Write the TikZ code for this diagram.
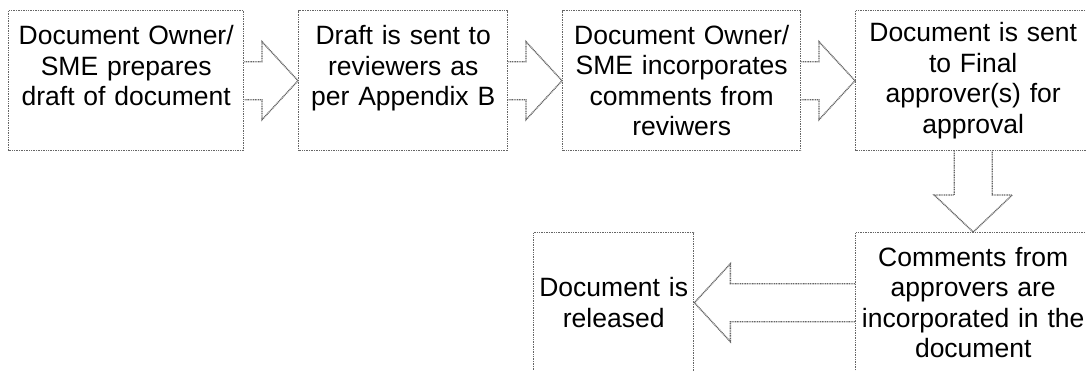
\documentclass[tikz,border=0pt]{standalone}
\usepackage{fontspec}
\setmainfont{Liberation Sans}
\usetikzlibrary{calc}

\tikzset{
  outline/.style={draw=black!60, line width=1.4pt, dash pattern=on 1pt off 0.7pt},
  stepbox/.style={outline, align=center, inner sep=0pt, anchor=north west,
    font=\fontsize{26.5}{30.5}\selectfont},
  blockarrow/.style={outline, line join=miter},
}

% block arrow pointing right, from the east side of #1 to the west side of #2
\newcommand{\rightblock}[2]{%
  \draw[blockarrow] ($(#1.east)+(0,19)$) -- ($(#2.west)+(-36,19)$)
    -- ($(#2.west)+(-36,39)$) -- (#2.west) -- ($(#2.west)+(-36,-39)$)
    -- ($(#2.west)+(-36,-19)$) -- ($(#1.east)+(0,-19)$);}

\begin{document}
\begin{tikzpicture}[x=1pt, y=1pt]
\useasboundingbox (0,0) rectangle (1086,-370);
\fill[white] (0,0) rectangle (1086,-370);
\clip (0,0) rectangle (1086,-370);

% first row
\node[stepbox, minimum width=235pt, minimum height=140pt, text width=228pt] (b1) at (8,-10)
  {Document Owner/\\SME prepares\\draft of document\\\mbox{}};
\node[stepbox, minimum width=209pt, minimum height=140pt, text width=202pt] (b2) at (298,-10)
  {Draft is sent to\\reviewers as\\per Appendix B\\\mbox{}};
\node[stepbox, minimum width=238pt, minimum height=140pt, text width=230pt] (b3) at (562,-10)
  {Document Owner/\\SME incorporates\\comments from\\reviwers};
\node[stepbox, minimum width=235pt, minimum height=140pt, text width=226pt] (b4) at (855,-10)
  {Document is sent\\to Final\\approver(s) for\\approval};

% second row
\node[stepbox, minimum width=235pt, minimum height=140pt, text width=226pt] (b5) at (855,-232)
  {Comments from\\approvers are\\incorporated in the\\document};
\node[stepbox, minimum width=160pt, minimum height=140pt, text width=154pt] (b6) at (533,-232)
  {Document is\\released};

% connectors
\rightblock{b1}{b2}
\rightblock{b2}{b3}
\rightblock{b3}{b4}

\draw[blockarrow] ($(b4.south)+(-19,0)$) -- ($(b5.north)+(-19,37)$)
  -- ($(b5.north)+(-39,37)$) -- (b5.north) -- ($(b5.north)+(39,37)$)
  -- ($(b5.north)+(19,37)$) -- ($(b4.south)+(19,0)$);

\draw[blockarrow] ($(b5.west)+(0,19)$) -- ($(b6.east)+(36,19)$)
  -- ($(b6.east)+(36,39)$) -- (b6.east) -- ($(b6.east)+(36,-39)$)
  -- ($(b6.east)+(36,-19)$) -- ($(b5.west)+(0,-19)$);
\end{tikzpicture}
\end{document}
